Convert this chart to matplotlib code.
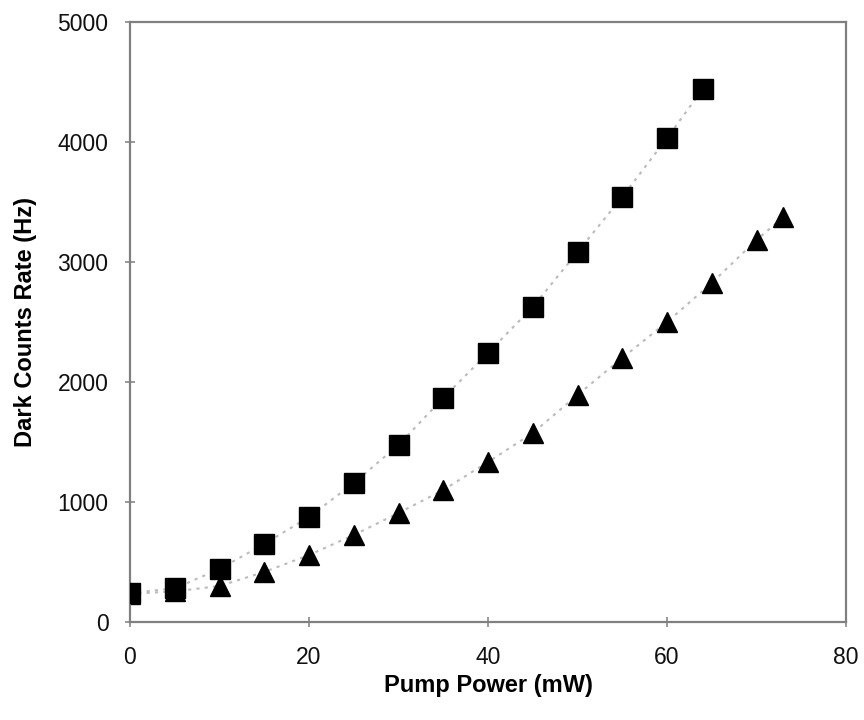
import matplotlib
matplotlib.use("Agg")
import matplotlib.pyplot as plt

# Data
sq_x = [0, 5, 10, 15, 20, 25, 30, 35, 40, 45, 50, 55, 60, 64]
sq_y = [242, 280, 442, 650, 875, 1158, 1475, 1867, 2242, 2625, 3083, 3542, 4033, 4442]

tri_x = [0, 5, 10, 15, 20, 25, 30, 35, 40, 45, 50, 55, 60, 65, 70, 73]
tri_y = [235, 255, 300, 417, 558, 725, 908, 1100, 1333, 1575, 1892, 2200, 2500, 2825, 3183, 3375]

x_ticks = [0, 20, 40, 60, 80]
y_ticks = [0, 1000, 2000, 3000, 4000, 5000]

plt.rcParams['font.family'] = ['Liberation Sans', 'DejaVu Sans']

fig = plt.figure(figsize=(8.64, 7.2), dpi=100)
ax = fig.add_axes([130/864, 1 - 622/720, (846 - 130)/864, (622 - 22)/720])

ax.plot(tri_x, tri_y, linestyle=(0, (1.5, 2.5)), color='#bbbbbb', linewidth=1.5, zorder=1)
ax.plot(sq_x, sq_y, linestyle=(0, (1.5, 2.5)), color='#bbbbbb', linewidth=1.5, zorder=1)
ax.plot(tri_x, tri_y, linestyle='none', marker='^', markersize=15, color='black', zorder=2)
ax.plot(sq_x, sq_y, linestyle='none', marker='s', markersize=14, color='black', zorder=3)

ax.set_xlim(0, 80)
ax.set_ylim(0, 5000)
ax.set_xticks(x_ticks)
ax.set_yticks(y_ticks)
ax.tick_params(axis='both', direction='inout', length=7, width=1.2, color='#888888',
               labelsize=16.5, labelcolor='#111111')
ax.tick_params(axis='x', pad=14)
ax.tick_params(axis='y', pad=12)

for s in ax.spines.values():
    s.set_color('#808080')
    s.set_linewidth(1.6)

ax.set_xlabel('Pump Power (mW)', fontsize=17, fontweight='bold')
ax.set_ylabel('Dark Counts Rate (Hz)', fontsize=17, fontweight='bold')
ax.xaxis.set_label_coords(0.5, -0.087)
ax.yaxis.set_label_coords(-0.13, 0.5)

fig.savefig('out.png', dpi=100, facecolor='white')
